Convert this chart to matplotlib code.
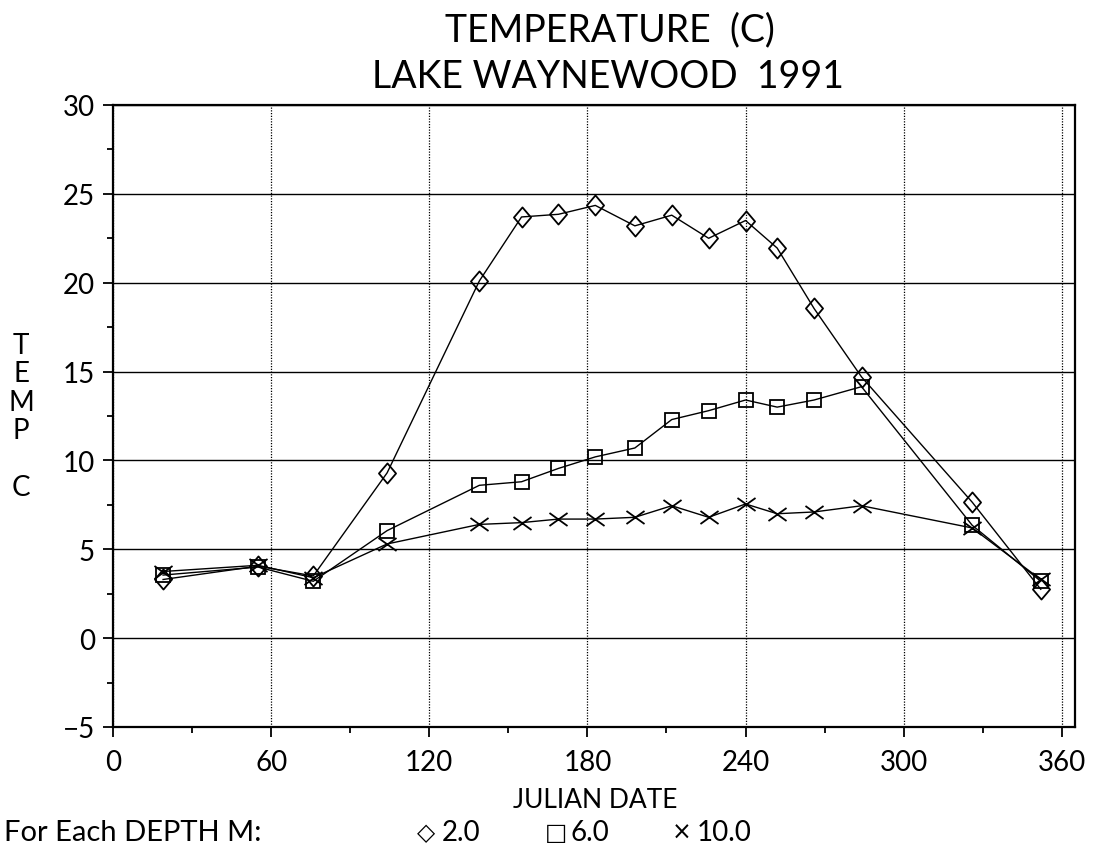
import numpy as np
import matplotlib.pyplot as plt
from matplotlib.path import Path
from matplotlib.ticker import MultipleLocator

# --- Lake Waynewood 1991 temperature profile data ---
julian_day = [19, 55, 76, 104, 139, 155, 169, 183, 198, 212, 226, 240, 252, 266, 284, 326, 352]
temp_2m = [3.3, 4.05, 3.5, 9.3, 20.1, 23.7, 23.85, 24.35, 23.2, 23.8, 22.5, 23.5, 21.95, 18.55, 14.7, 7.65, 2.75]
temp_6m = [3.55, 4.0, 3.2, 6.05, 8.6, 8.8, 9.55, 10.2, 10.7, 12.3, 12.8, 13.4, 13.0, 13.4, 14.15, 6.35, 3.2]
temp_10m = [3.75, 4.1, 3.4, 5.3, 6.4, 6.5, 6.7, 6.7, 6.8, 7.45, 6.8, 7.55, 7.0, 7.1, 7.45, 6.2, 3.3]

x_ticks = [0, 60, 120, 180, 240, 300, 360]
y_ticks = [-5, 0, 5, 10, 15, 20, 25, 30]

plt.rcParams['font.family'] = ['Lato', 'DejaVu Sans']

W, H = 1093, 854
fig = plt.figure(figsize=(W / 100, H / 100), dpi=100)
ax = fig.add_axes([113 / W, 1 - 728 / H, (1075 - 113) / W, (728 - 106) / H])

# custom markers: tall diamond and a flat cross
diamond = Path([(0, 1), (0.85, 0), (0, -1), (-0.85, 0), (0, 1)],
               [Path.MOVETO, Path.LINETO, Path.LINETO, Path.LINETO, Path.CLOSEPOLY])
cross = Path([(-1, -0.72), (1, 0.72), (-1, 0.72), (1, -0.72)],
             [Path.MOVETO, Path.LINETO, Path.MOVETO, Path.LINETO])

line_kw = dict(color='black', lw=1.0, mfc='none', mec='black', mew=1.3)
ax.plot(julian_day, temp_2m, marker=diamond, ms=14.5, **line_kw)
ax.plot(julian_day, temp_6m, marker='s', ms=10.5, **line_kw)
ax.plot(julian_day, temp_10m, marker=cross, ms=13, **line_kw)

ax.set_xlim(0, 365)
ax.set_ylim(-5, 30)
ax.set_xticks(x_ticks)
ax.set_yticks(y_ticks)
ax.set_yticklabels([str(v).replace('-', '\u2212') for v in y_ticks])
ax.xaxis.set_minor_locator(MultipleLocator(30))
ax.yaxis.set_minor_locator(MultipleLocator(2.5))
ax.tick_params(which='major', direction='out', length=7, width=1.3, labelsize=20, color='black')
ax.tick_params(axis='x', which='major', pad=9)
ax.tick_params(axis='y', which='major', pad=6)
ax.tick_params(which='minor', direction='out', length=4, width=1.3)

ax.yaxis.grid(True, which='major', color='black', lw=1.0, ls='-')
ax.xaxis.grid(True, which='major', color='black', lw=0.9, ls=(0, (1, 1.2)))
ax.set_axisbelow(True)
for sp in ax.spines.values():
    sp.set_linewidth(1.6)

# titles and labels
fig.text(610 / W, 1 - 30 / H, 'TEMPERATURE  (C)', ha='center', va='center', fontsize=27)
fig.text(608 / W, 1 - 77 / H, 'LAKE WAYNEWOOD  1991', ha='center', va='center', fontsize=27)
fig.text(595 / W, 1 - 801 / H, 'JULIAN DATE', ha='center', va='center', fontsize=19)

for ch, yp in zip('TEMPC', [346, 374, 403, 431, 488]):
    fig.text(21 / W, 1 - yp / H, ch, ha='center', va='center', fontsize=20)

# depth key along the bottom
sym_fam = ['DejaVu Sans']
fig.text(4 / W, 1 - 833 / H, 'For Each DEPTH M:', ha='left', va='center', fontsize=21)
for sym, lab, xp in [('\u25c7', '2.0', 417), ('\u25a1', '6.0', 545), ('\u00d7', '10.0', 672)]:
    fig.text(xp / W, 1 - 833 / H, sym, ha='left', va='center', fontsize=17, family=sym_fam)
    fig.text((xp + 25) / W, 1 - 833 / H, lab, ha='left', va='center', fontsize=20)

fig.savefig('out.png', dpi=100)
